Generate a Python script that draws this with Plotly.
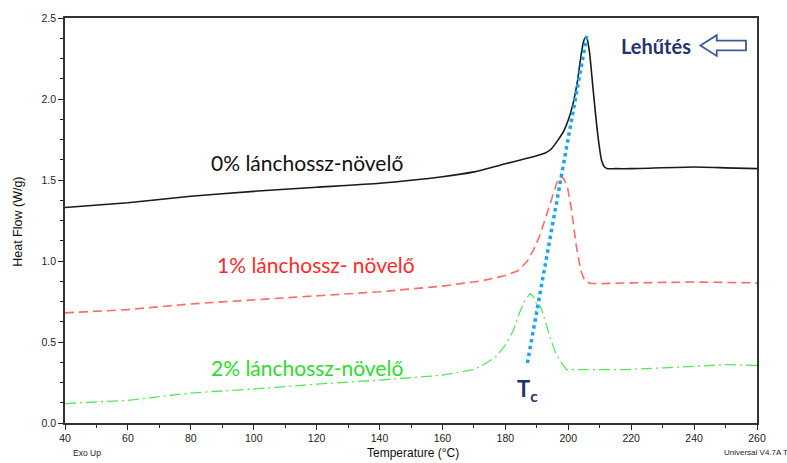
import plotly.graph_objects as go

# ---- data ----
t0 = [40, 60, 80, 100, 120, 140, 160, 170, 180, 186, 190, 192.5, 194.5, 196.5, 198.5, 200, 201.5, 203, 204, 204.8, 205.4, 206, 206.8, 207.7, 208.7, 209.7, 210.6, 211.5, 212.5, 215, 220, 240, 250, 260]
hf0 = [1.33, 1.36, 1.40, 1.43, 1.455, 1.48, 1.52, 1.55, 1.60, 1.63, 1.65, 1.665, 1.69, 1.74, 1.80, 1.87, 1.97, 2.12, 2.26, 2.35, 2.38, 2.37, 2.28, 2.10, 1.90, 1.73, 1.62, 1.58, 1.57, 1.57, 1.57, 1.58, 1.575, 1.57]

t1 = [40, 60, 80, 100, 120, 140, 160, 172, 180, 184, 187, 189, 191, 193, 195, 196.5, 197.5, 198.5, 199.8, 201, 202.5, 204, 205.3, 207, 210, 220, 240, 260]
hf1 = [0.68, 0.70, 0.735, 0.76, 0.785, 0.81, 0.845, 0.876, 0.91, 0.94, 1.0, 1.07, 1.16, 1.28, 1.41, 1.49, 1.52, 1.51, 1.45, 1.32, 1.10, 0.94, 0.876, 0.862, 0.86, 0.865, 0.87, 0.865]

t2 = [40, 60, 80, 100, 120, 140, 160, 170, 174, 177, 180, 182.5, 184.5, 186.3, 187.9, 189.3, 190.3, 191.2, 192.2, 194.2, 196, 197.9, 199.5, 205, 218.6, 230, 240, 250, 260]
hf2 = [0.12, 0.14, 0.185, 0.21, 0.24, 0.265, 0.295, 0.33, 0.37, 0.41, 0.48, 0.57, 0.68, 0.76, 0.80, 0.77, 0.71, 0.72, 0.66, 0.53, 0.43, 0.37, 0.33, 0.33, 0.33, 0.34, 0.35, 0.36, 0.355]

tc_x = [187.0, 206.0]
tc_y = [0.37, 2.40]

x_ticks = [40, 60, 80, 100, 120, 140, 160, 180, 200, 220, 240, 260]
y_ticks = [0.0, 0.5, 1.0, 1.5, 2.0, 2.5]
y_labels = ["0.0", "0.5", "1.0", "1.5", "2.0", "2.5"]

labels = ["0% lánchossz-növelő", "1% lánchossz- növelő", "2% lánchossz-növelő"]

fig = go.Figure()
fig.add_trace(go.Scatter(x=t0, y=hf0, mode="lines", line=dict(color="#1a1a1a", width=1.6, shape="spline", smoothing=0.5), showlegend=False))
fig.add_trace(go.Scatter(x=t1, y=hf1, mode="lines", line=dict(color="#ff6a6a", width=1.6, dash="9px,5px"), showlegend=False))
fig.add_trace(go.Scatter(x=t2, y=hf2, mode="lines", line=dict(color="#55e855", width=1.3, dash="11px,4px,2px,4px"), showlegend=False))
fig.add_trace(go.Scatter(x=tc_x, y=tc_y, mode="lines", line=dict(color="#1aa6ec", width=3.5, dash="dot"), showlegend=False))

calibri = "Lato, Open Sans, sans-serif"
arial = "Liberation Sans, Arial, sans-serif"

ann = [
    dict(x=117, y=1.605, text=labels[0], font=dict(color="#111111", size=21, family=calibri)),
    dict(x=119.8, y=0.98, text=labels[1], font=dict(color="#ff2a2a", size=21, family=calibri)),
    dict(x=117, y=0.343, text=labels[2], font=dict(color="#2bdc2b", size=21, family=calibri)),
    dict(x=227.9, y=2.33, text="<b>Lehűtés</b>", font=dict(color="#1f3370", size=20, family=calibri)),
    dict(x=187.0, y=0.205, text="<b>T<sub>c</sub></b>", font=dict(color="#1f3370", size=22, family=calibri)),
]
for a in ann:
    a.update(xref="x", yref="y", showarrow=False, xanchor="center", yanchor="middle")

ann += [
    dict(xref="paper", yref="paper", x=0.032, y=-0.0735, text="Exo Up", showarrow=False,
         xanchor="center", yanchor="middle", font=dict(size=8.5, color="#222222", family=arial)),
    dict(xref="paper", yref="paper", x=0.949, y=-0.0735, text="Universal V4.7A TA", showarrow=False,
         xanchor="left", yanchor="middle", font=dict(size=8, color="#222222", family=arial)),
    dict(xref="paper", yref="paper", x=0.503, y=-0.0735, text="Temperature (°C)", showarrow=False,
         xanchor="center", yanchor="middle", font=dict(size=12, color="#111111", family=arial)),
    dict(xref="paper", yref="paper", x=-0.069, y=0.4975, text="Heat Flow (W/g)", showarrow=False, textangle=-90,
         xanchor="center", yanchor="middle", font=dict(size=12.5, color="#111111", family=arial)),
]

# hollow left-pointing block arrow next to "Lehűtés"
yc = 2.33
arrow_path = (f"M 242,{yc} L 247.2,{yc+0.064} L 247.2,{yc+0.03} L 256.5,{yc+0.03} "
              f"L 256.5,{yc-0.03} L 247.2,{yc-0.03} L 247.2,{yc-0.064} Z")
fig.add_shape(type="path", path=arrow_path, xref="x", yref="y",
              line=dict(color="#3d5b94", width=1.8), fillcolor="white")

fig.update_layout(
    width=787, height=463,
    margin=dict(l=65, r=30, t=15, b=40),
    paper_bgcolor="white", plot_bgcolor="white",
    annotations=ann,
    font=dict(family=arial, size=11, color="#111111"),
)
fig.update_xaxes(
    range=[40, 260], tickvals=x_ticks, ticks="outside", ticklen=5, tickcolor="#222222",
    showline=True, linecolor="#333333", linewidth=1.5, mirror=True, showgrid=False, zeroline=False,
    tickfont=dict(size=10.5, family=arial, color="#222222"),
    minor=dict(dtick=10, ticks="outside", ticklen=3, tickcolor="#222222"),
)
fig.update_yaxes(
    range=[0, 2.5], tickvals=y_ticks, ticktext=y_labels, ticks="outside", ticklen=5, tickcolor="#222222",
    showline=True, linecolor="#333333", linewidth=1.5, mirror=True, showgrid=False, zeroline=False,
    tickfont=dict(size=10.5, family=arial, color="#222222"),
    minor=dict(dtick=0.125, ticks="outside", ticklen=3, tickcolor="#222222"),
)

fig.write_html("out.html")
